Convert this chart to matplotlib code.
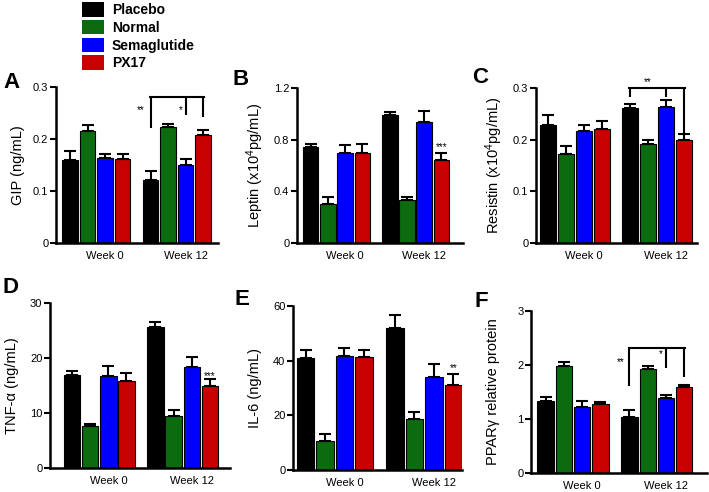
import matplotlib.pyplot as plt
import numpy as np
from matplotlib.patches import Patch

plt.rcParams["font.family"] = ["Liberation Sans", "DejaVu Sans"]
plt.rcParams["mathtext.default"] = "regular"

W, H = 709, 492

weeks = ["Week 0", "Week 12"]
treatments = ["Placebo", "Normal", "Semaglutide", "PX17"]
colors = ["#000000", "#0d6b0f", "#0000ff", "#c80000"]

# mean values / upper error (SEM), rows = week 0, week 12
gip_mean = [[0.160, 0.215, 0.163, 0.161], [0.121, 0.224, 0.150, 0.208]]
gip_err = [[0.017, 0.012, 0.009, 0.010], [0.017, 0.005, 0.011, 0.009]]

leptin_mean = [[0.745, 0.305, 0.70, 0.70], [0.99, 0.335, 0.94, 0.64]]
leptin_err = [[0.025, 0.05, 0.06, 0.065], [0.025, 0.025, 0.085, 0.06]]

resistin_mean = [[0.229, 0.173, 0.216, 0.221], [0.261, 0.192, 0.263, 0.199]]
resistin_err = [[0.018, 0.015, 0.012, 0.016], [0.008, 0.008, 0.014, 0.012]]

tnf_mean = [[17.0, 7.6, 16.8, 15.8], [25.6, 9.5, 18.4, 15.0]]
tnf_err = [[0.7, 0.4, 1.7, 1.4], [0.9, 1.1, 1.8, 1.2]]

il6_mean = [[41.0, 10.7, 41.8, 41.5], [52.0, 18.8, 33.9, 31.2]]
il6_err = [[2.8, 2.5, 2.7, 2.5], [4.8, 2.5, 4.7, 3.8]]

ppar_mean = [[1.34, 1.985, 1.23, 1.27], [1.045, 1.92, 1.395, 1.585]]
ppar_err = [[0.07, 0.075, 0.10, 0.05], [0.12, 0.07, 0.05, 0.045]]

GROUP_OFFSET = 4.6


def px_box(l, r, t, b):
    return [l / W, 1 - b / H, (r - l) / W, (b - t) / H]


panels = [
    dict(letter="A", lpos=(3, 88), box=(56, 218, 87, 243), xlim=(-0.8, 8.45),
         mean=gip_mean, err=gip_err, ylabel="GIP (ng/mL)",
         yticks=[0, 0.1, 0.2, 0.3], ylabels=["0", "0.1", "0.2", "0.3"],
         bracket=([4.6, 6.6, 7.6], [0.221, 0.247, 0.243], 0.281),
         stars=[("**", 4.05, 0.255), ("*", 6.3, 0.256)]),
    dict(letter="B", lpos=(233, 85), box=(297, 463, 88, 243), xlim=(-0.8, 8.86),
         mean=leptin_mean, err=leptin_err, ylabel="Leptin (x10$^4$pg/mL)",
         yticks=[0, 0.4, 0.8, 1.2], ylabels=["0", "0.4", "0.8", "1.2"],
         bracket=None, stars=[("***", 7.6, 0.745)]),
    dict(letter="C", lpos=(472, 83), box=(536, 697, 88, 243), xlim=(-0.67, 8.33),
         mean=resistin_mean, err=resistin_err, ylabel="Resistin (x10$^4$pg/mL)",
         yticks=[0, 0.1, 0.2, 0.3], ylabels=["0", "0.1", "0.2", "0.3"],
         bracket=([4.6, 6.6, 7.6], [0.282, 0.282, 0.21], 0.30),
         stars=[("**", 5.6, 0.312)]),
    dict(letter="D", lpos=(3, 293), box=(50, 230, 303, 468), xlim=(-1.22, 8.71),
         mean=tnf_mean, err=tnf_err, ylabel="TNF-α (ng/mL)",
         yticks=[0, 10, 20, 30], ylabels=["0", "10", "20", "30"],
         bracket=None, stars=[("***", 7.6, 16.8)]),
    dict(letter="E", lpos=(235, 305), box=(293, 462, 306, 470), xlim=(-0.65, 8.05),
         mean=il6_mean, err=il6_err, ylabel="IL-6 (ng/mL)",
         yticks=[0, 20, 40, 60], ylabels=["0", "20", "40", "60"],
         bracket=None, stars=[("**", 7.6, 37.3)]),
    dict(letter="F", lpos=(475, 307), box=(531, 707, 311, 473), xlim=(-0.8, 8.85),
         mean=ppar_mean, err=ppar_err, ylabel="PPARγ relative protein",
         yticks=[0, 1, 2, 3], ylabels=["0", "1", "2", "3"],
         bracket=([4.6, 6.6, 7.6], [1.62, 1.94, 1.77], 2.32),
         stars=[("**", 4.1, 2.06), ("*", 6.3, 2.2)]),
]

fig = plt.figure(figsize=(W / 100, H / 100), dpi=100)

for p in panels:
    l, r, t, b = p["box"]
    ax = fig.add_axes(px_box(l, r, t, b))
    for g in range(2):
        x = g * GROUP_OFFSET + np.arange(4)
        ax.bar(x, p["mean"][g], width=0.9, color=colors, edgecolor="black",
               linewidth=0.8, zorder=2)
        ax.errorbar(x, p["mean"][g], yerr=[np.zeros(4), p["err"][g]], fmt="none",
                    ecolor="black", elinewidth=1.5, capsize=4.5, capthick=1.5,
                    zorder=3)

    ax.set_xlim(*p["xlim"])
    ax.set_ylim(0, p["yticks"][-1])
    ax.set_yticks(p["yticks"])
    ax.set_yticklabels(p["ylabels"])
    ax.set_xticks([2.0, GROUP_OFFSET + 2.0])
    ax.set_xticklabels(weeks)
    ax.tick_params(axis="x", length=0, pad=6, labelsize=8)
    ax.tick_params(axis="y", length=4, width=1.5, pad=1.5, labelsize=8)
    for side in ("top", "right"):
        ax.spines[side].set_visible(False)
    for side in ("left", "bottom"):
        ax.spines[side].set_linewidth(1.8)

    ax.set_ylabel(p["ylabel"], fontsize=10.5)
    ax.yaxis.set_label_coords(-31 / (r - l), 0.5)

    if p["bracket"] is not None:
        xs, bottoms, top = p["bracket"]
        for xx, yb in zip(xs, bottoms):
            ax.plot([xx, xx], [yb, top], color="black", lw=1.5, clip_on=False,
                    solid_capstyle="butt", zorder=4)
        ax.plot([xs[0] - 0.05, xs[-1] + 0.05], [top, top], color="black", lw=1.5,
                clip_on=False, zorder=4)
    for s, xx, yy in p["stars"]:
        ax.text(xx, yy, s, ha="center", va="center", fontsize=7, clip_on=False)

    lx, ly = p["lpos"]
    fig.text(lx / W, 1 - ly / H, p["letter"], fontsize=16, fontweight="bold",
             ha="left", va="baseline")

handles = [Patch(facecolor=c, edgecolor="none") for c in colors]
fig.legend(handles, treatments, loc="upper left",
           bbox_to_anchor=(82 / W, 1 - 2 / H), frameon=False,
           prop={"weight": "bold", "size": 10}, handlelength=1.6,
           handleheight=1.25, labelspacing=0.2, handletextpad=0.55,
           borderpad=0, borderaxespad=0)

fig.savefig("out.png", dpi=100)
